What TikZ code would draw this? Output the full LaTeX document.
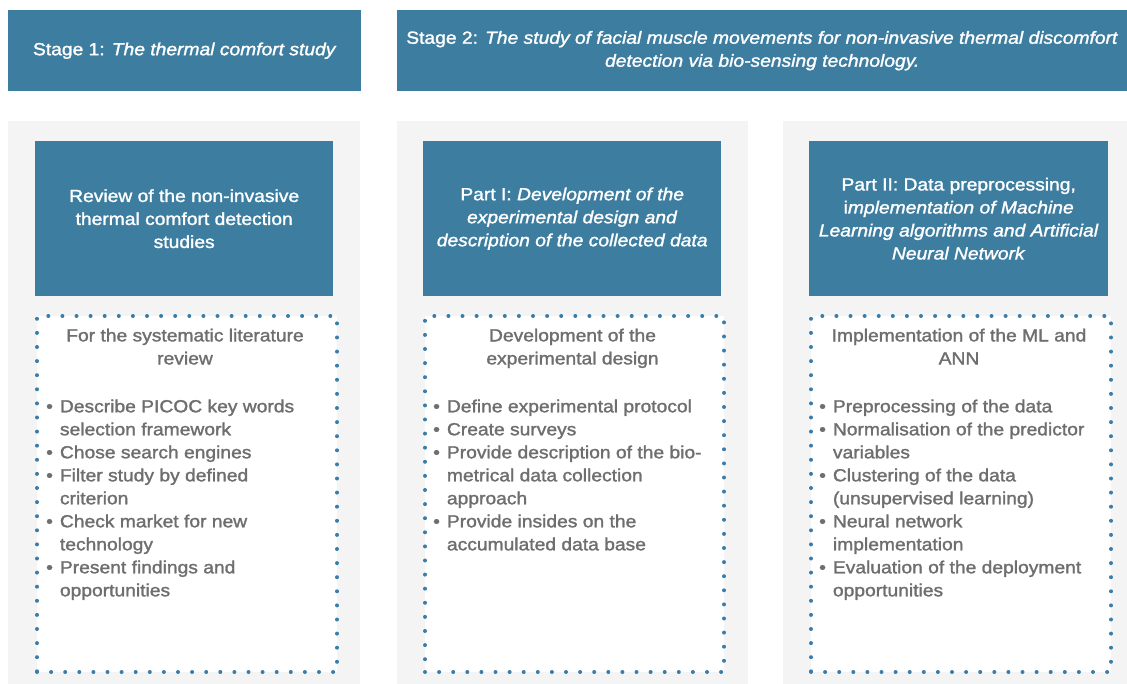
\documentclass[tikz,border=0pt]{standalone}
\usepackage{fontspec}
\setmainfont{Liberation Sans}
\newfontfamily\medfont{Liberation Sans}[FakeStretch=1.1, FakeBold=1.5]
\definecolor{hblue}{HTML}{3D7DA0}
\definecolor{dotblue}{HTML}{3A7DAA}
\definecolor{panelgray}{HTML}{F4F4F4}
\definecolor{txtgray}{HTML}{6E6E6E}
\begin{document}
\begin{tikzpicture}[x=1pt,y=-1pt,
  hdr/.style={fill=hblue, text=white, align=center, inner sep=0pt, font=\medfont\fontsize{17.5}{23}\selectfont},
  panel/.style={fill=panelgray, draw=none, inner sep=0pt, anchor=north west},
  dotbox/.style={fill=white, draw=dotblue, line width=4pt, dash pattern=on 0pt off 14.1pt, line cap=round, inner sep=0pt, anchor=north west},
  ttl/.style={text=txtgray, align=center, inner sep=0pt, anchor=north, font=\medfont\fontsize{17.5}{23}\selectfont},
  lst/.style={text=txtgray, inner sep=0pt, anchor=north west, font=\medfont\fontsize{17.5}{23}\selectfont}
]
\useasboundingbox (0,0) rectangle (1127,684);
\fill[white] (0,0) rectangle (1127,684);

% stage headers
\node[hdr, minimum width=353, minimum height=81, anchor=north west] (s1) at (8,10) {Stage 1: \textit{The thermal comfort study}};
\node[hdr, minimum width=730, minimum height=81, anchor=north west] (s2) at (397,10) {Stage 2: \textit{The study of facial muscle movements for non-invasive thermal discomfort}\\\textit{detection via bio-sensing technology.}};

% panels
\node[panel, minimum width=352, minimum height=563] (p1) at (8,121) {};
\node[panel, minimum width=351, minimum height=563] (p2) at (397,121) {};
\node[panel, minimum width=344, minimum height=563] (p3) at (783,121) {};

% blue headers
\node[hdr, minimum width=298, minimum height=155, anchor=north west] (h1) at (35,141) {Review of the non-invasive\\thermal comfort detection\\studies};
\node[hdr, minimum width=298, minimum height=155, anchor=north west] (h2) at (423,141) {Part I: \textit{Development of the}\\\textit{experimental design and}\\\textit{description of the collected data}};
\node[hdr, minimum width=299, minimum height=155, anchor=north west] (h3) at (809,141) {Part II: Data preprocessing,\\i\textit{mplementation of Machine}\\\textit{Learning algorithms and Artificial}\\\textit{Neural Network}};

% dotted boxes
\node[dotbox, minimum width=300, minimum height=356] (d1) at (35,314) {};
\node[dotbox, minimum width=299, minimum height=356] (d2) at (423,314) {};
\node[dotbox, minimum width=300, minimum height=356] (d3) at (809,314) {};

% titles
\node[ttl] (t1) at (185,328.5) {For the systematic literature\\review};
\node[ttl] (t2) at (572.5,328.5) {Development of the\\experimental design};
\node[ttl] (t3) at (959,328.5) {Implementation of the ML and\\ANN};

% lists
\node[lst] (l1) at (46,396) {\begin{tabular}{@{}l@{\hspace{7pt}}l@{}}
\textbullet & Describe PICOC key words\\
 & selection framework\\
\textbullet & Chose search engines\\
\textbullet & Filter study by defined\\
 & criterion\\
\textbullet & Check market for new\\
 & technology\\
\textbullet & Present findings and\\
 & opportunities
\end{tabular}};
\node[lst] (l2) at (433,396) {\begin{tabular}{@{}l@{\hspace{7pt}}l@{}}
\textbullet & Define experimental protocol\\
\textbullet & Create surveys\\
\textbullet & Provide description of the bio-\\
 & metrical data collection\\
 & approach\\
\textbullet & Provide insides on the\\
 & accumulated data base
\end{tabular}};
\node[lst] (l3) at (819,396) {\begin{tabular}{@{}l@{\hspace{7pt}}l@{}}
\textbullet & Preprocessing of the data\\
\textbullet & Normalisation of the predictor\\
 & variables\\
\textbullet & Clustering of the data\\
 & (unsupervised learning)\\
\textbullet & Neural network\\
 & implementation\\
\textbullet & Evaluation of the deployment\\
 & opportunities
\end{tabular}};
\end{tikzpicture}
\end{document}
